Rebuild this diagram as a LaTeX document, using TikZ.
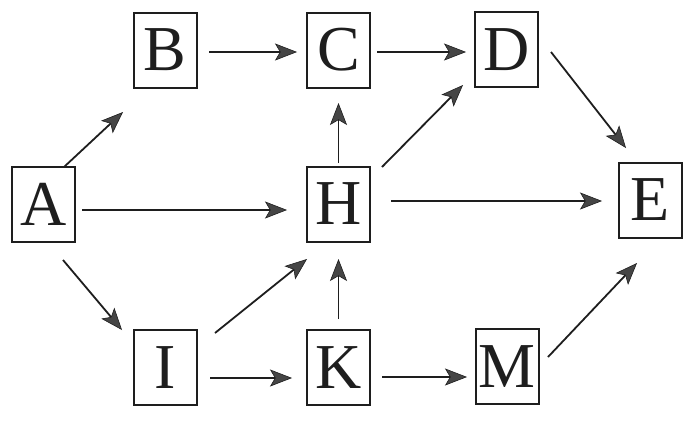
\documentclass[tikz,border=0pt]{standalone}
\usepackage{fontspec}
\setmainfont{Liberation Serif}
\usetikzlibrary{arrows.meta,calc}
\definecolor{ink}{HTML}{1E1E1E}
\definecolor{headgray}{HTML}{454545}
\tikzset{
  letterbox/.style={draw=ink, line width=2pt, minimum width=63pt, minimum height=75pt,
    inner sep=0pt, text=ink, font=\fontsize{64}{70}\selectfont},
  arr/.style={draw=ink, line width=1.8pt,
    -{Stealth[length=22pt,width=17pt,inset=5pt,fill=headgray,line width=0.6pt]}}
}
\begin{document}
\begin{tikzpicture}[x=1pt,y=-1pt]
\useasboundingbox[fill=white] (0,0) rectangle (688,424);
\node[letterbox] (A) at (43.75,204.75) {A};
\node[letterbox] (B) at (165,50) {B};
\node[letterbox] (C) at (338.5,50) {C};
\node[letterbox] (D) at (506.5,49.5) {D};
\node[letterbox] (E) at (650.5,200) {E};
\node[letterbox] (H) at (338.5,204) {H};
\node[letterbox] (I) at (165,367.5) {I};
\node[letterbox] (K) at (338.5,367.5) {K};
\node[letterbox] (M) at (507,366.5) {M};
\draw[arr] ([shift={(20.25,-37.75)}]A.center) -- ([shift={(-42,62)}]B.center);
\draw[arr] ([shift={(38.25,5.25)}]A.center) -- ([shift={(-51.5,6)}]H.center);
\draw[arr] ([shift={(19.25,55.25)}]A.center) -- ([shift={(-43,-37.5)}]I.center);
\draw[arr] ([shift={(44,2)}]B.center) -- ([shift={(-41.5,2)}]C.center);
\draw[arr] ([shift={(38.5,2)}]C.center) -- ([shift={(-40.5,2.5)}]D.center);
\draw[arr] ([shift={(44.5,2.5)}]D.center) -- ([shift={(-24.5,-52)}]E.center);
\draw[arr] ([shift={(0,-41)}]H.center) -- ([shift={(0,53)}]C.center);
\draw[arr] ([shift={(43.5,-37)}]H.center) -- ([shift={(-43.5,35.5)}]D.center);
\draw[arr] ([shift={(52.5,-3)}]H.center) -- ([shift={(-48.5,1)}]E.center);
\draw[arr] ([shift={(50,-34.5)}]I.center) -- ([shift={(-31.5,55)}]H.center);
\draw[arr] ([shift={(45,10.5)}]I.center) -- ([shift={(-46.5,10.5)}]K.center);
\draw[arr] ([shift={(0,-48.5)}]K.center) -- ([shift={(0,55)}]H.center);
\draw[arr] ([shift={(43.5,9.5)}]K.center) -- ([shift={(-40,10.5)}]M.center);
\draw[arr] ([shift={(41,-9.5)}]M.center) -- ([shift={(-13.5,63)}]E.center);
\end{tikzpicture}
\end{document}
